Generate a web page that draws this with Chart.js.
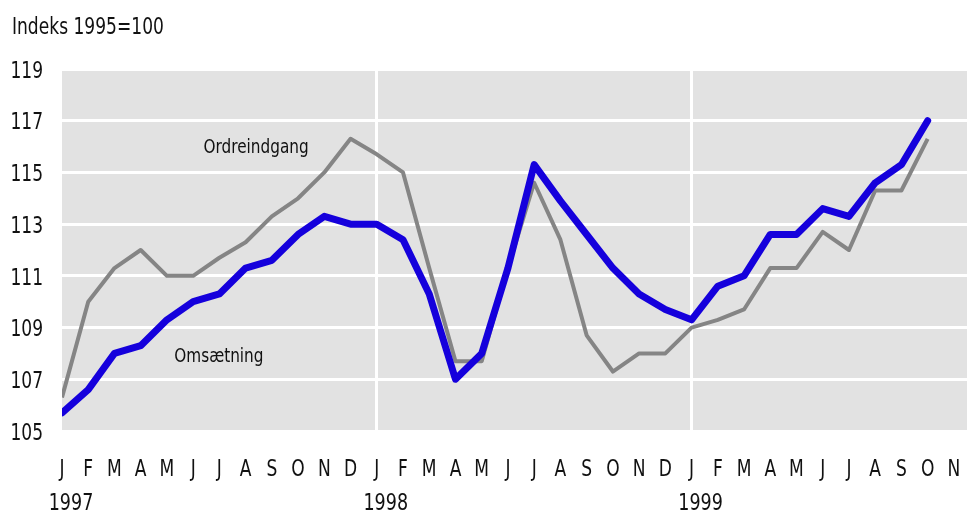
<!DOCTYPE html>
<html>
<head>
<meta charset="utf-8">
<script src="https://cdn.jsdelivr.net/npm/chart.js@4.4.0/dist/chart.umd.min.js"></script>
<style>
  html, body { margin: 0; padding: 0; background: #fff; }
</style>
</head>
<body>
<canvas id="chart" width="969" height="511"></canvas>
<script>
// Omsætning og ordreindgang, indeks 1995=100, jan 1997 - okt 1999
const MONTHS = ['J','F','M','A','M','J','J','A','S','O','N','D',
                'J','F','M','A','M','J','J','A','S','O','N','D',
                'J','F','M','A','M','J','J','A','S','O','N'];
const YEARS = ['1997', '1998', '1999'];
const YEAR_START = [0, 12, 24];

const omsaetning = [105.7, 106.6, 108.0, 108.3, 109.3, 110.0, 110.3, 111.3, 111.6, 112.6, 113.3, 113.0,
                    113.0, 112.4, 110.3, 107.0, 108.0, 111.3, 115.3, 113.9, 112.6, 111.3, 110.3, 109.7,
                    109.3, 110.6, 111.0, 112.6, 112.6, 113.6, 113.3, 114.6, 115.3, 117.0];
const ordreindgang = [106.3, 110.0, 111.3, 112.0, 111.0, 111.0, 111.7, 112.3, 113.3, 114.0, 115.0, 116.3,
                      115.7, 115.0, 111.3, 107.7, 107.7, 111.3, 114.6, 112.4, 108.7, 107.3, 108.0, 108.0,
                      109.0, 109.3, 109.7, 111.3, 111.3, 112.7, 112.0, 114.3, 114.3, 116.3];

const Y_MIN = 105, Y_MAX = 119, Y_STEP = 2;

// series label anchors, in data units
const LABELS = [
  { text: 'Ordreindgang', x: 7.4, y: 116.05 },
  { text: 'Omsætning', x: 5.98, y: 107.95 },
];

const FONT = "'DejaVu Sans Condensed', 'Liberation Sans Narrow', 'Arial Narrow', sans-serif";
const STRETCH = 1.18; // the original face is taller and narrower than any installed one
const INK = '#111';
const BLUE = '#1500dc';
const GREY = '#858585';
const PANEL = '#e2e2e2';

const toPoints = (arr) => arr.map((v, i) => ({ x: i, y: v }));

// text centred vertically on cap height, stretched upwards
function label(ctx, txt, x, y, size, align) {
  ctx.save();
  ctx.font = size + 'px ' + FONT;
  ctx.textAlign = align;
  ctx.textBaseline = 'alphabetic';
  ctx.translate(x, y + 0.365 * size * STRETCH);
  ctx.scale(1, STRETCH);
  ctx.fillText(txt, 0, 0);
  ctx.restore();
}

const decor = {
  id: 'decor',
  beforeDraw(chart) {
    const { ctx, chartArea: a } = chart;
    ctx.save();
    ctx.fillStyle = PANEL;
    ctx.fillRect(a.left, a.top, a.right - a.left, a.bottom - a.top);
    ctx.restore();
  },
  afterDraw(chart) {
    const { ctx, scales: { x, y } } = chart;
    ctx.save();
    ctx.fillStyle = INK;

    label(ctx, 'Indeks 1995=100', 12, 26, 19, 'left');

    y.ticks.forEach((t) => label(ctx, String(t.value), 43, y.getPixelForValue(t.value) + 0.5, 19, 'right'));
    x.ticks.forEach((t) => label(ctx, MONTHS[t.value], x.getPixelForValue(t.value), 467.5, 19, 'center'));
    YEARS.forEach((yr, i) => label(ctx, yr, x.getPixelForValue(YEAR_START[i]) + 9, 501.5, 19.5, 'center'));

    LABELS.forEach((l) => label(ctx, l.text, x.getPixelForValue(l.x), y.getPixelForValue(l.y), 17, 'center'));
    ctx.restore();
  }
};

new Chart(document.getElementById('chart'), {
  type: 'line',
  data: {
    datasets: [
      {
        label: 'Omsætning',
        data: toPoints(omsaetning),
        borderColor: BLUE,
        borderWidth: 7,
        borderCapStyle: 'round',
        borderJoinStyle: 'round',
        pointRadius: 0,
        tension: 0,
      },
      {
        label: 'Ordreindgang',
        data: toPoints(ordreindgang),
        borderColor: GREY,
        borderWidth: 4,
        borderJoinStyle: 'round',
        pointRadius: 0,
        tension: 0,
      },
    ],
  },
  options: {
    responsive: false,
    animation: false,
    layout: { padding: { top: 69, right: 2, left: 0, bottom: 0 } },
    plugins: { legend: { display: false }, tooltip: { enabled: false } },
    scales: {
      x: {
        type: 'linear',
        min: 0,
        max: 34.5,
        afterBuildTicks: (s) => { s.ticks = MONTHS.map((m, i) => ({ value: i })); },
        afterFit: (s) => { s.height = 80; s.paddingLeft = 0; s.paddingRight = 0; },
        ticks: { display: false },
        grid: {
          drawTicks: false,
          lineWidth: 3,
          color: (c) => (c.tick && YEAR_START.includes(c.tick.value) && c.tick.value > 0) ? '#fff' : 'rgba(0,0,0,0)',
        },
        border: { display: false },
      },
      y: {
        min: Y_MIN,
        max: Y_MAX,
        afterFit: (s) => { s.width = 62; s.paddingTop = 0; s.paddingBottom = 0; },
        ticks: { stepSize: Y_STEP, display: false },
        grid: { color: '#fff', lineWidth: 3, drawTicks: false },
        border: { display: false },
      },
    },
  },
  plugins: [decor],
});
</script>
</body>
</html>
